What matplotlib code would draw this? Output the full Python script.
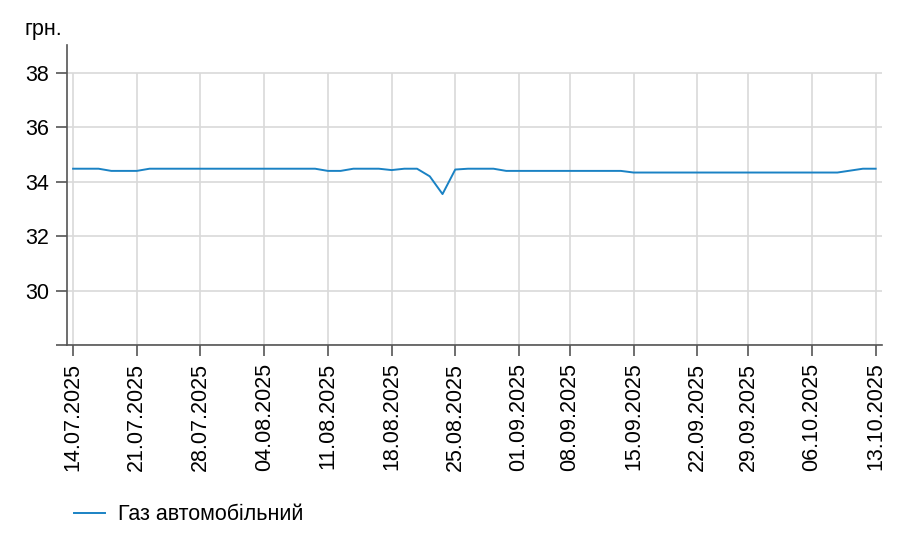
import pandas as pd
import matplotlib
matplotlib.use("Agg")
import matplotlib.pyplot as plt

plt.rcParams["font.family"] = ["Liberation Sans", "DejaVu Sans"]

# business days, two missing days in the source data
dates = pd.bdate_range("2025-07-14", "2025-10-13").drop(
    pd.to_datetime(["2025-09-05", "2025-09-26"])
)

values = (
    [34.48] * 3 + [34.40] * 3 + [34.48] * 14 + [34.40] * 2
    + [34.48] * 3 + [34.43] + [34.48] * 2 + [34.20, 33.55, 34.45]
    + [34.48] * 3 + [34.40] * 10 + [34.34] * 17 + [34.41] + [34.48] * 2
)

series_label = "Газ автомобільний"
unit_label = "грн."
y_ticks = [28, 30, 32, 34, 36, 38]
y_tick_labels = ["", "30", "32", "34", "36", "38"]

line_color = "#1a82c4"
grid_color = "#d9d9d9"
spine_color = "#555555"
fs = 15.5

x = list(range(len(dates)))
tick_idx = [i for i, d in enumerate(dates) if d.weekday() == 0]
tick_labels = [dates[i].strftime("%d.%m.%Y") for i in tick_idx]

fig = plt.figure(figsize=(9.14, 5.56), dpi=100)
ax = fig.add_axes([0.073, 0.3788, 0.892, 0.5394])

ax.set_xlim(-0.5, len(dates) - 0.5)
ax.set_ylim(28, 39)

ax.grid(axis="y", color=grid_color, linewidth=1.2, zorder=0)
ax.vlines(tick_idx, 28, 38, color=grid_color, linewidth=1.2, zorder=0)

ax.plot(x, values, color=line_color, linewidth=1.4, label=series_label, zorder=3)

ax.set_yticks(y_ticks)
ax.set_yticklabels(y_tick_labels, fontsize=fs)
ax.set_xticks(tick_idx)
ax.set_xticklabels(tick_labels, rotation=90, fontsize=fs)

for side in ["top", "right"]:
    ax.spines[side].set_visible(False)
for side in ["left", "bottom"]:
    ax.spines[side].set_color(spine_color)
    ax.spines[side].set_linewidth(1.2)
ax.tick_params(axis="both", colors=spine_color, length=8, width=1.2,
               labelcolor="black", pad=4.5)

fig.text(25 / 914, 1 - 30 / 556, unit_label, fontsize=fs, va="center", ha="left")

fig.legend(loc="center left", bbox_to_anchor=(74 / 914, 1 - 515 / 556),
           frameon=False, fontsize=fs, borderpad=0, borderaxespad=0,
           handlelength=1.45, handletextpad=0.6)

fig.savefig("out.png", dpi=100)
